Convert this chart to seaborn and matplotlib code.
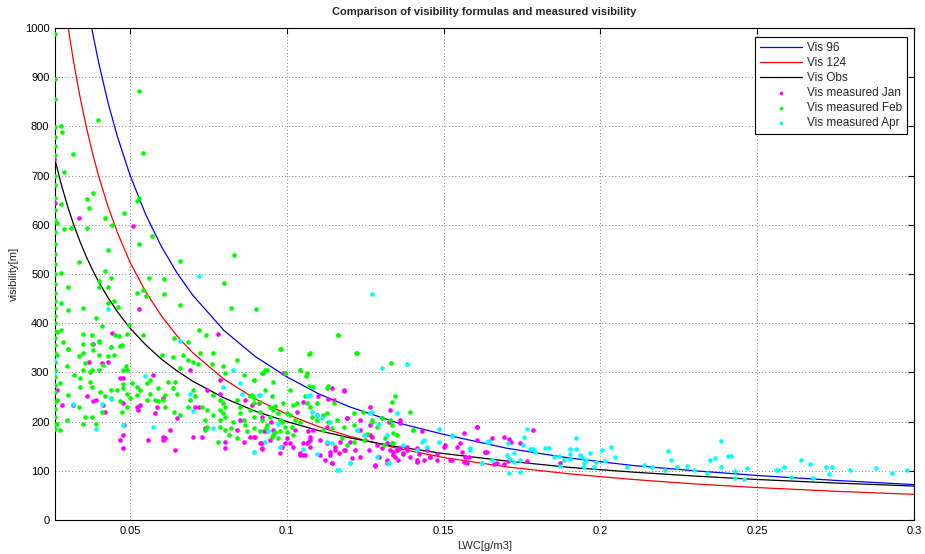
import matplotlib
matplotlib.use("Agg")
import matplotlib.pyplot as plt
import seaborn as sns
import pandas as pd

# ---- visibility formula curves (LWC in g/m3, visibility in m) ----
curve_lwc = [0.026, 0.028, 0.030, 0.032, 0.034, 0.036, 0.038, 0.040, 0.043, 0.046,
             0.050, 0.055, 0.060, 0.065, 0.070, 0.080, 0.090, 0.100, 0.110, 0.120,
             0.135, 0.150, 0.170, 0.190, 0.210, 0.230, 0.250, 0.275, 0.300]
vis_96 = [1500, 1365, 1250, 1150, 1105, 1063, 993, 930, 848, 779,
          701, 621, 556, 502, 457, 385, 332, 291, 257, 230,
          198, 174, 146, 126, 111, 100, 90.5, 80.4, 72.0]
vis_124 = [1230, 1107, 1013, 932, 862, 801, 747, 699, 637, 584,
           524, 464, 415, 374, 340, 286, 246, 215, 190, 170,
           146, 127, 108, 93.8, 82.5, 73.3, 65.9, 58.3, 52.1]
vis_obs = [735, 684, 640, 601, 567, 536, 509, 484, 452, 423,
           390, 356, 327, 303, 282, 248, 221, 200, 182, 167,
           149, 135, 120, 107, 97.5, 89.3, 82.3, 75.1, 69.0]

# ---- measured visibility, January ----
jan_points = [
    (0.0257, 734), (0.0262, 644), (0.0338, 613), (0.0511, 598), (0.0530, 429), (0.0782, 378),
    (0.0442, 381), (0.0381, 358), (0.0268, 264), (0.0282, 234), (0.0319, 234), (0.0362, 251),
    (0.0370, 322), (0.0383, 241), (0.0391, 244), (0.0415, 234), (0.0420, 220), (0.0410, 320),
    (0.0431, 322), (0.0468, 288), (0.0479, 288), (0.0477, 237), (0.0481, 193), (0.0479, 173),
    (0.0479, 146), (0.0468, 163), (0.0532, 234), (0.0521, 230), (0.0527, 224), (0.0559, 163),
    (0.0574, 295), (0.0580, 217), (0.0585, 230), (0.0606, 247), (0.0606, 169), (0.0606, 163),
    (0.0612, 166), (0.0628, 183), (0.0644, 142), (0.0649, 207), (0.0691, 305), (0.0707, 230),
    (0.0721, 230), (0.0702, 169), (0.0729, 169), (0.0739, 186), (0.0745, 264), (0.0787, 285),
    (0.0787, 257), (0.0803, 159), (0.0803, 146), (0.0840, 183), (0.0851, 203), (0.0862, 159),
    (0.0867, 244), (0.0883, 169), (0.0894, 169), (0.0915, 156), (0.0920, 146), (0.0936, 180),
    (0.0947, 163), (0.0957, 183), (0.0979, 136), (0.0995, 298), (0.1000, 166), (0.1021, 149),
    (0.1032, 220), (0.1043, 136), (0.1053, 132), (0.1064, 156), (0.1074, 163), (0.1085, 183),
    (0.1096, 213), (0.1106, 163), (0.1128, 156), (0.1128, 190), (0.1138, 132), (0.1144, 115),
    (0.1149, 244), (0.1165, 136),
    (0.1144, 268), (0.1183, 263), (0.1101, 252), (0.1133, 245), (0.0989, 298), (0.1053, 240),
    (0.0888, 234), (0.0910, 237), (0.0926, 180), (0.0957, 173), (0.0899, 169), (0.0920, 156),
    (0.0920, 144), (0.0984, 149), (0.0995, 156), (0.1027, 183), (0.1069, 180), (0.1075, 169),
    (0.1069, 159), (0.1075, 149), (0.1053, 156), (0.1043, 132), (0.1059, 132), (0.1106, 132),
    (0.1122, 122), (0.1144, 115), (0.1138, 139), (0.1154, 142), (0.1170, 159), (0.1181, 142),
    (0.1202, 159), (0.1192, 207), (0.1234, 203), (0.1266, 193), (0.1234, 183), (0.1250, 163),
    (0.1271, 169), (0.1287, 152), (0.1303, 146), (0.1319, 156), (0.1330, 142), (0.1340, 139),
    (0.1351, 142), (0.1362, 146), (0.1372, 137), (0.1346, 129), (0.1319, 122), (0.1293, 129),
    (0.1282, 110), (0.1234, 129), (0.1218, 142), (0.1207, 125), (0.1325, 200), (0.1362, 197),
    (0.1383, 142), (0.1394, 129), (0.1415, 122), (0.1431, 180), (0.1447, 142), (0.1458, 129),
    (0.1479, 135), (0.1500, 149), (0.1521, 122), (0.1543, 149), (0.1564, 118), (0.1580, 129),
    (0.1607, 190), (0.1633, 139), (0.1670, 115), (0.1423, 135), (0.1261, 142), (0.1154, 149),
    (0.1266, 230), (0.0920, 210), (0.0949, 200), (0.1011, 156),
    (0.1606, 190), (0.1564, 176), (0.1606, 163), (0.1553, 156), (0.1558, 139), (0.1569, 129),
    (0.1574, 115), (0.1526, 122), (0.1479, 122), (0.1457, 129), (0.1436, 122), (0.1415, 118),
    (0.1638, 139), (0.1505, 152), (0.1181, 264), (0.1191, 207), (0.1330, 224), (0.1362, 203),
    (0.1266, 173), (0.1186, 142), (0.1282, 112), (0.1383, 149), (0.1351, 142), (0.1372, 135),
    (0.1340, 132), (0.1356, 122), (0.1319, 115), (0.1415, 146),
    (0.1633, 139), (0.1654, 167), (0.1662, 114), (0.1694, 169), (0.1694, 113), (0.1704, 120),
    (0.1707, 164), (0.1715, 159), (0.1745, 157), (0.1766, 119), (0.1785, 182), (0.1872, 116),
]

# ---- measured visibility, February ----
feb_points = [
    (0.0261, 988), (0.0261, 896), (0.0261, 856), (0.0261, 799), (0.0261, 778), (0.0261, 760),
    (0.0261, 742), (0.0261, 700), (0.0261, 680), (0.0261, 655), (0.0261, 630), (0.0261, 610),
    (0.0261, 585), (0.0261, 560), (0.0261, 540), (0.0261, 520), (0.0261, 500), (0.0261, 480),
    (0.0261, 462), (0.0261, 445), (0.0261, 430), (0.0261, 415), (0.0261, 400), (0.0261, 385),
    (0.0261, 370), (0.0261, 355), (0.0261, 340), (0.0261, 322), (0.0261, 305), (0.0261, 290),
    (0.0261, 275), (0.0261, 260), (0.0261, 240), (0.0261, 225), (0.0261, 210), (0.0261, 195),
    (0.0261, 185),
    (0.0281, 800), (0.0284, 788), (0.0319, 743), (0.0289, 708), (0.0399, 812), (0.0530, 871),
    (0.0542, 745), (0.0381, 665), (0.0362, 652), (0.0370, 634), (0.0281, 642), (0.0420, 614),
    (0.0481, 623), (0.0442, 600), (0.0268, 604), (0.0289, 591), (0.0312, 593), (0.0362, 593),
    (0.0521, 649), (0.0530, 654), (0.0571, 577), (0.0530, 561), (0.0431, 549), (0.0660, 526),
    (0.0832, 539), (0.0338, 524), (0.0420, 507), (0.0281, 502), (0.0561, 491), (0.0609, 489),
    (0.0801, 482), (0.0400, 486), (0.0439, 491), (0.0301, 473), (0.0400, 473), (0.0431, 474),
    (0.0521, 462), (0.0542, 467), (0.0551, 456), (0.0609, 459), (0.0660, 436), (0.0821, 430),
    (0.0902, 429), (0.0449, 446), (0.0462, 432), (0.0431, 442), (0.0349, 430), (0.0301, 427),
    (0.0281, 442), (0.0391, 410), (0.0411, 395), (0.0498, 396), (0.1163, 376), (0.0349, 377),
    (0.0380, 375), (0.0452, 375), (0.0466, 373), (0.0491, 377), (0.0542, 375), (0.0721, 386),
    (0.0742, 376), (0.0641, 369), (0.0685, 361), (0.0979, 348), (0.0301, 348), (0.0268, 383),
    (0.0281, 386), (0.0400, 364), (0.0438, 352), (0.0468, 354),
    (0.0287, 362), (0.0349, 358), (0.0378, 358), (0.0402, 362), (0.0441, 352), (0.0473, 356),
    (0.0268, 335), (0.0303, 347), (0.0338, 333), (0.0351, 339), (0.0383, 346), (0.0402, 335),
    (0.0431, 333), (0.0449, 335), (0.0356, 320), (0.0415, 315), (0.0487, 312), (0.0321, 295),
    (0.0351, 305), (0.0378, 305), (0.0402, 304), (0.0479, 305), (0.0491, 305), (0.0300, 312),
    (0.0340, 288), (0.0372, 301), (0.0277, 278), (0.0303, 254), (0.0340, 271), (0.0372, 281),
    (0.0378, 271), (0.0404, 261), (0.0441, 264), (0.0460, 264), (0.0477, 268), (0.0479, 276),
    (0.0491, 257), (0.0505, 278), (0.0521, 271), (0.0532, 264), (0.0553, 278), (0.0564, 285),
    (0.0590, 268), (0.0612, 254), (0.0638, 268), (0.0649, 257), (0.0564, 257), (0.0580, 244),
    (0.0606, 244), (0.0622, 281), (0.0644, 281), (0.0660, 308), (0.0638, 332), (0.0670, 335),
    (0.0601, 335), (0.0686, 325), (0.0702, 322), (0.0723, 339), (0.0718, 318), (0.0766, 339),
    (0.0761, 318), (0.0796, 312), (0.0803, 298), (0.0840, 325), (0.0862, 295), (0.0894, 285),
    (0.0920, 298), (0.0936, 305), (0.0957, 281), (0.0995, 298), (0.1043, 305), (0.1064, 298),
    (0.1074, 339), (0.1011, 264), (0.1085, 271), (0.1096, 237), (0.1128, 268), (0.1128, 217),
    (0.1149, 237), (0.1032, 237),
    (0.0766, 254), (0.0787, 244), (0.0796, 237), (0.0803, 230), (0.0787, 224), (0.0796, 217),
    (0.0803, 210), (0.0787, 203), (0.0766, 213), (0.0745, 224), (0.0739, 203), (0.0729, 230),
    (0.0707, 251), (0.0702, 264), (0.0691, 244), (0.0686, 230), (0.0840, 244), (0.0851, 230),
    (0.0851, 217), (0.0862, 203), (0.0867, 193), (0.0883, 251), (0.0894, 237), (0.0883, 224),
    (0.0894, 210), (0.0915, 220), (0.0920, 203), (0.0936, 193), (0.0947, 210), (0.0957, 224),
    (0.0979, 203), (0.0995, 190), (0.1000, 217), (0.0821, 186), (0.0803, 183), (0.0787, 190),
    (0.0745, 190), (0.0739, 183), (0.0815, 173), (0.0830, 200), (0.0873, 180), (0.0957, 173),
    (0.0979, 180), (0.0915, 180), (0.0840, 166), (0.0780, 159), (0.0640, 220), (0.0660, 213),
    (0.0612, 230), (0.0590, 241), (0.0553, 244), (0.0521, 254), (0.0500, 247), (0.0468, 241),
    (0.0473, 220), (0.0491, 230), (0.0441, 247), (0.0420, 251), (0.0410, 220), (0.0380, 210),
    (0.0350, 196), (0.0277, 183), (0.0300, 203), (0.0268, 196), (0.0268, 244), (0.0338, 230),
    (0.0356, 210), (0.0391, 196),
    (0.0981, 348), (0.1072, 337), (0.1162, 376), (0.1221, 339), (0.0894, 285), (0.0923, 298),
    (0.0931, 305), (0.1043, 304), (0.1062, 293), (0.1072, 272), (0.1133, 272), (0.1332, 320),
    (0.1344, 253), (0.1335, 240), (0.1394, 220), (0.1402, 183), (0.0888, 254), (0.0894, 247),
    (0.0931, 264), (0.0952, 251), (0.0913, 240), (0.0947, 230), (0.0963, 232), (0.0973, 217),
    (0.0989, 237), (0.1021, 233), (0.0984, 200), (0.1011, 213), (0.1027, 203), (0.1043, 200),
    (0.1059, 251), (0.1064, 238), (0.1075, 230), (0.1080, 210), (0.1096, 203), (0.1117, 213),
    (0.1133, 200), (0.1144, 186), (0.1160, 203), (0.1016, 190), (0.1000, 179), (0.0963, 179),
    (0.0934, 186), (0.0894, 186), (0.0952, 169), (0.0973, 166), (0.1021, 173), (0.1117, 183),
    (0.1176, 166), (0.1213, 193), (0.1271, 203), (0.1303, 207), (0.1330, 203), (0.1340, 176),
    (0.1351, 173), (0.1335, 156), (0.1309, 152), (0.1245, 163),
    (0.1223, 339), (0.1242, 220), (0.1213, 217), (0.1271, 200), (0.1287, 190), (0.1335, 193),
    (0.1303, 207), (0.1255, 175), (0.1213, 159), (0.1191, 152), (0.1314, 166), (0.1340, 156),
    (0.1404, 183), (0.1183, 190),
]

# ---- measured visibility, April ----
apr_points = [
    (0.0258, 325), (0.0258, 298), (0.0319, 235), (0.0410, 235), (0.0391, 184), (0.0441, 245),
    (0.0479, 193), (0.0548, 293), (0.0572, 188), (0.0691, 257), (0.0702, 222), (0.0798, 271),
    (0.0830, 304), (0.0851, 278), (0.0857, 257), (0.0766, 186), (0.0894, 139), (0.0910, 254),
    (0.0941, 180), (0.0979, 149), (0.0721, 495), (0.0431, 429), (0.0660, 364), (0.1053, 145),
    (0.1074, 254), (0.1096, 213), (0.1128, 159), (0.1165, 102), (0.1138, 200),
    (0.1273, 459), (0.1303, 308), (0.1383, 317), (0.0913, 254), (0.0894, 139), (0.0931, 159),
    (0.0973, 196), (0.1064, 251), (0.1080, 220), (0.1112, 207), (0.1096, 135), (0.1144, 156),
    (0.1160, 102), (0.1202, 115), (0.1224, 183), (0.1245, 173), (0.1266, 217), (0.1293, 196),
    (0.1319, 173), (0.1351, 217), (0.1372, 152), (0.1325, 115), (0.1415, 142), (0.1436, 163),
    (0.1484, 184), (0.1484, 159), (0.1527, 173), (0.1585, 142), (0.1644, 159),
    (0.1383, 318), (0.1271, 220), (0.1526, 170), (0.1585, 146), (0.1638, 159), (0.1202, 115),
    (0.1324, 115), (0.1431, 159), (0.1223, 183), (0.1287, 129), (0.1622, 115), (0.1447, 149),
    (0.1622, 115), (0.1644, 160), (0.1654, 122), (0.1702, 132), (0.1704, 157), (0.1707, 95),
    (0.1713, 123), (0.1723, 136), (0.1723, 117), (0.1745, 122), (0.1745, 98), (0.1753, 153),
    (0.1755, 168), (0.1766, 184), (0.1774, 144), (0.1785, 144), (0.1793, 139), (0.1824, 146),
    (0.1835, 147), (0.1853, 129), (0.1867, 130), (0.1872, 110), (0.1885, 122), (0.1904, 144),
    (0.1904, 134), (0.1904, 123), (0.1923, 144), (0.1923, 167), (0.1936, 132), (0.1941, 127),
    (0.1947, 115), (0.1949, 107), (0.1955, 122), (0.1968, 136), (0.1979, 107), (0.1987, 117),
    (0.2005, 142), (0.2016, 120), (0.2034, 149), (0.2046, 127), (0.2085, 107), (0.2138, 112),
    (0.2165, 107), (0.2207, 102), (0.2215, 141), (0.2226, 121), (0.2245, 107), (0.2277, 110),
    (0.2298, 102), (0.2340, 95), (0.2348, 122), (0.2367, 125), (0.2386, 161), (0.2386, 108),
    (0.2406, 130), (0.2417, 130), (0.2428, 100), (0.2428, 86), (0.2458, 83), (0.2466, 105),
    (0.2559, 102), (0.2567, 102), (0.2585, 108), (0.2609, 88), (0.2640, 121), (0.2667, 114),
    (0.2678, 86), (0.2718, 107), (0.2729, 93), (0.2739, 107), (0.2796, 102), (0.2878, 105),
    (0.2931, 96), (0.2979, 102),
]

x_ticks = [0.05, 0.1, 0.15, 0.2, 0.25, 0.3]
x_tick_labels = ["0.05", "0.1", "0.15", "0.2", "0.25", "0.3"]
y_ticks = list(range(0, 1001, 100))

sns.set_style("white")
plt.rcParams["font.family"] = ["Liberation Sans", "DejaVu Sans"]

curves = pd.DataFrame({"lwc": curve_lwc, "Vis 96": vis_96, "Vis 124": vis_124, "Vis Obs": vis_obs})
jan = pd.DataFrame(jan_points, columns=["lwc", "vis"])
feb = pd.DataFrame(feb_points, columns=["lwc", "vis"])
apr = pd.DataFrame(apr_points, columns=["lwc", "vis"])

fig = plt.figure(figsize=(9.25, 5.54), dpi=100)
ax = fig.add_axes([0.0595, 0.0614, 0.9286, 0.8881])

for name, color in [("Vis 96", "#0000ff"), ("Vis 124", "#ff0000"), ("Vis Obs", "#000000")]:
    sns.lineplot(data=curves, x="lwc", y=name, ax=ax, color=color, linewidth=0.9,
                 label=name, sort=False, estimator=None)

for df, name, color in [(jan, "Vis measured Jan", "#ff00ff"),
                        (feb, "Vis measured Feb", "#00ff00"),
                        (apr, "Vis measured Apr", "#00ffff")]:
    sns.scatterplot(data=df, x="lwc", y="vis", ax=ax, color=color, marker="o", s=11,
                    linewidth=0, label=name, zorder=3)

ax.set_xlim(0.0261, 0.3)
ax.set_ylim(0, 1000)
ax.set_xticks(x_ticks)
ax.set_xticklabels(x_tick_labels)
ax.set_yticks(y_ticks)
ax.grid(True, color="#555555", linestyle=(0, (1, 3)), linewidth=0.6)
ax.set_axisbelow(True)
ax.tick_params(direction="in", length=4, width=0.8, labelsize=8, top=True, right=True,
               colors="black", pad=4)
for spine in ax.spines.values():
    spine.set_color("black")
    spine.set_linewidth(0.8)

ax.set_title("Comparison of visibility formulas and measured visibility",
             fontsize=8, fontweight="bold", pad=9)
ax.set_xlabel("LWC[g/m3]", fontsize=8, labelpad=4)
ax.set_ylabel("visibility[m]", fontsize=8, labelpad=4)

leg = ax.legend(loc="upper right", bbox_to_anchor=(0.9985, 0.993), fontsize=8.5,
                frameon=True, fancybox=False, edgecolor="black", framealpha=1,
                handlelength=3.6, handletextpad=0.4, borderpad=0.4, labelspacing=0.25,
                markerscale=0.8)
leg.get_frame().set_linewidth(0.8)

fig.savefig("out.png", dpi=100)
